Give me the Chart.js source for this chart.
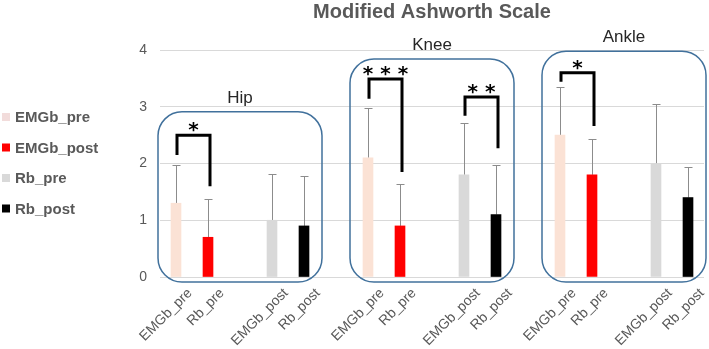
<!DOCTYPE html>
<html><head><meta charset="utf-8">
<script src="https://cdn.jsdelivr.net/npm/chart.js@4"></script>
<style>html,body{margin:0;padding:0;background:#fff}#wrap{width:709px;height:349px;position:relative}</style>
</head><body><div id="wrap"><canvas id="c"></canvas></div>
<script>
const titleText = "Modified Ashworth Scale";
const categories = ["EMGb_pre","Rb_pre","","EMGb_post","Rb_post","",
                    "EMGb_pre","Rb_pre","","EMGb_post","Rb_post","",
                    "EMGb_pre","Rb_pre","","EMGb_post","Rb_post"];
const groups = ["Hip","Knee","Ankle"];
const seriesNames = ["EMGb_pre","EMGb_post","Rb_pre","Rb_post"];
const seriesColors = ["#fbe2d5","#ff0000","#d9d9d9","#000000"];
const legendColors = ["#f2dcdb","#ff0000","#d9d9d9","#000000"];
// means per group (Hip, Knee, Ankle)
const emgbPre  = [1.3, 2.1, 2.5];
const emgbPost = [0.7, 0.9, 1.8];
const rbPre    = [1.0, 1.8, 2.0];
const rbPost   = [0.9, 1.1, 1.4];
// upper error (SD)
const emgbPreSD  = [0.68, 0.88, 0.85];
const emgbPostSD = [0.68, 0.74, 0.63];
const rbPreSD    = [0.81, 0.92, 1.05];
const rbPostSD   = [0.88, 0.88, 0.54];
const yTicks = [0, 1, 2, 3, 4];
// significance brackets
const sigGroup  = [0, 1, 1, 2];
const sigFrom   = [0, 0, 2, 0];   // series index
const sigTo     = [1, 1, 3, 1];
const sigLabels = ["*", "* * *", "* *", "*"];
const sigLeftY  = [2.15, 3.14, 2.84, 3.44];
const sigTopY   = [2.5, 3.49, 3.17, 3.6];
const sigRightY = [1.6, 1.85, 2.27, 2.66];
// group box tops
const boxTop = [2.91, 3.84, 3.98];

const slotOffset = [0, 1, 3, 4];
const means = [emgbPre, emgbPost, rbPre, rbPost];
const sds = [emgbPreSD, emgbPostSD, rbPreSD, rbPostSD];
function slotOf(g, s){ return g*6 + slotOffset[s]; }

const datasets = seriesNames.map((name, s) => {
  const data = categories.map(() => null);
  const err = categories.map(() => null);
  groups.forEach((g, gi) => { data[slotOf(gi, s)] = means[s][gi]; err[slotOf(gi, s)] = means[s][gi] + sds[s][gi]; });
  return { label: name, data, errTop: err, backgroundColor: seriesColors[s], borderWidth: 0, barThickness: 10 };
});

const GREY = "#595959";

const overlay = {
  id: 'overlay',
  beforeDatasetsDraw(chart){
    const ctx = chart.ctx, y = chart.scales.y;
    ctx.save();
    ctx.strokeStyle = "#8c8c8c"; ctx.lineWidth = 1;
    chart.data.datasets.forEach((ds, di) => {
      const meta = chart.getDatasetMeta(di);
      meta.data.forEach((bar, i) => {
        if (ds.errTop[i] == null) return;
        const x = Math.round(bar.x) + 0.5;
        const yt = Math.round(y.getPixelForValue(ds.errTop[i])) + 0.5;
        const yb = y.getPixelForValue(ds.data[i]);
        ctx.beginPath(); ctx.moveTo(x, yb); ctx.lineTo(x, yt);
        ctx.moveTo(x - 4, yt); ctx.lineTo(x + 4, yt); ctx.stroke();
      });
    });
    ctx.restore();
  },
  afterDraw(chart){
    const ctx = chart.ctx, xs = chart.scales.x, y = chart.scales.y, area = chart.chartArea;
    ctx.save();
    // title
    ctx.fillStyle = GREY; ctx.font = "bold 20px 'Liberation Sans', Arial, sans-serif";
    ctx.textAlign = "center"; ctx.textBaseline = "middle";
    ctx.fillText(titleText, (area.left + area.right)/2, 12);
    // legend
    ctx.font = "bold 15px 'Liberation Sans', Arial, sans-serif";
    ctx.textAlign = "left";
    const legY0 = 117, legStep = 30.5;
    seriesNames.forEach((n, s) => {
      const ly = legY0 + s*legStep;
      ctx.fillStyle = legendColors[s];
      ctx.fillRect(2, ly - 4, 8, 8);
      ctx.fillStyle = GREY;
      ctx.fillText(n, 15, ly + 1);
    });
    // group boxes
    ctx.strokeStyle = "#41719c"; ctx.lineWidth = 1.5;
    groups.forEach((g, gi) => {
      const l = xs.getPixelForValue(slotOf(gi, 0)) - 18;
      const r = xs.getPixelForValue(slotOf(gi, 3)) + 18;
      const t = y.getPixelForValue(boxTop[gi]);
      const b = y.getPixelForValue(0) + 5;
      ctx.beginPath();
      ctx.roundRect(l, t, r - l, b - t, 24);
      ctx.stroke();
      ctx.fillStyle = "#262626";
      ctx.font = "17px 'Liberation Sans', Arial, sans-serif";
      ctx.textAlign = "center"; ctx.textBaseline = "middle";
      ctx.fillText(g, (l + r)/2, t - 14);
    });
    // significance brackets
    ctx.strokeStyle = "#000"; ctx.lineWidth = 3; ctx.lineJoin = "miter"; ctx.lineCap = "butt";
    sigLabels.forEach((lab, k) => {
      const x1 = xs.getPixelForValue(slotOf(sigGroup[k], sigFrom[k])) + 1;
      const x2 = xs.getPixelForValue(slotOf(sigGroup[k], sigTo[k])) + 2;
      const yl = y.getPixelForValue(sigLeftY[k]);
      const yt = y.getPixelForValue(sigTopY[k]);
      const yr = y.getPixelForValue(sigRightY[k]);
      ctx.beginPath(); ctx.moveTo(x1, yl); ctx.lineTo(x1, yt); ctx.lineTo(x2, yt); ctx.lineTo(x2, yr); ctx.stroke();
      ctx.fillStyle = "#000";
      ctx.font = "bold 20px 'DejaVu Sans', sans-serif";
      ctx.textAlign = "center"; ctx.textBaseline = "alphabetic";
      ctx.fillText(lab, (x1 + x2)/2, yt + 1);
    });
    ctx.restore();
  }
};

new Chart(document.getElementById('c'), {
  type: 'bar',
  data: { labels: categories, datasets },
  options: {
    responsive: true, maintainAspectRatio: false, animation: false,
    layout: { padding: { left: 0, right: 5, top: 50, bottom: 0 } },
    plugins: { legend: { display: false }, title: { display: false }, tooltip: { enabled: false } },
    scales: {
      x: {
        stacked: true,
        grid: { display: false, drawTicks: false },
        border: { display: false },
        ticks: { autoSkip: false, minRotation: 45, maxRotation: 45, padding: 8, labelOffset: 14,
                 color: GREY, font: { size: 14, family: "'Liberation Sans', Arial, sans-serif" } },
        afterFit(s){ s.height = 72; }
      },
      y: {
        min: 0, max: 4,
        grid: { color: "#d9d9d9", drawTicks: false },
        border: { display: false },
        afterBuildTicks(s){ s.ticks = yTicks.map(v => ({ value: v })); },
        ticks: { padding: 13, color: GREY, font: { size: 14, family: "'Liberation Sans', Arial, sans-serif" } },
        afterFit(s){ s.width = 160; }
      }
    }
  },
  plugins: [overlay]
});
</script></body></html>
